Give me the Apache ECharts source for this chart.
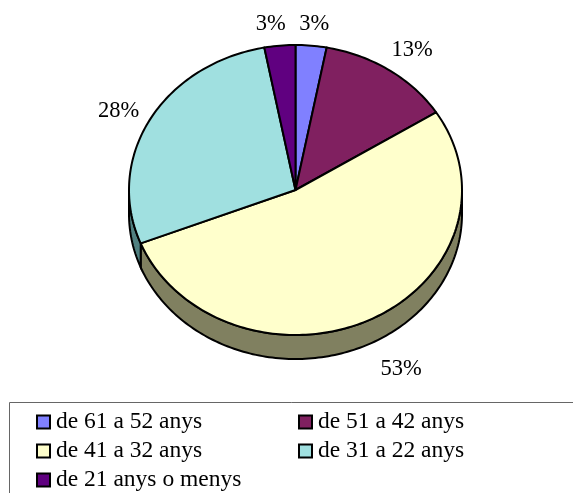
<!DOCTYPE html>
<html>
<head>
<meta charset="utf-8">
<style>
  html, body { margin: 0; padding: 0; background: #fff; }
  #chart { width: 573px; height: 493px; }
</style>
<script src="https://cdn.jsdelivr.net/npm/echarts@6/dist/echarts.min.js"></script>
</head>
<body>
<div id="chart"></div>
<script>
var categories = ['de 61 a 52 anys', 'de 51 a 42 anys', 'de 41 a 32 anys', 'de 31 a 22 anys', 'de 21 anys o menys'];
var values = [3, 13, 53, 28, 3];
var colors = ['#8080ff', '#802060', '#ffffcc', '#a0e0e0', '#600080'];
var sideColors = ['#404080', '#401030', '#808060', '#508080', '#300040'];
// label offset from the rim of the pie, at the middle of each slice
var labelOffsets = [[3, -22], [23, -20], [30, 50], [-31, -9], [-9, -22]];

var cx = 295.5, cy = 190, rx = 166.5, ry = 145, depth = 24;
var total = values.reduce(function (a, b) { return a + b; }, 0);

function rimPoint(t, dy) {
  return [cx + rx * Math.sin(t), cy - ry * Math.cos(t) + (dy || 0)];
}

function arcPoints(from, to, dy) {
  var pts = [];
  var n = Math.max(2, Math.ceil((to - from) / 0.02));
  for (var i = 0; i <= n; i++) {
    pts.push(rimPoint(from + (to - from) * i / n, dy));
  }
  return pts;
}

function makeSeries(index) {
  var before = values.slice(0, index).reduce(function (a, b) { return a + b; }, 0);
  return {
    type: 'custom',
    name: categories[index],
    coordinateSystem: 'none',
    silent: true,
    animation: false,
    itemStyle: { color: colors[index], borderColor: '#000', borderWidth: 2 },
    data: [[values[index]]],
    renderItem: function (params, api) {
      var start = before / total * Math.PI * 2;
      var end = start + api.value(0) / total * Math.PI * 2;
      var children = [];

      // side wall, only the part facing the viewer
      var sideFrom = Math.max(start, Math.PI / 2);
      var sideTo = Math.min(end, Math.PI * 1.5);
      if (sideTo > sideFrom) {
        children.push({
          type: 'polygon',
          shape: { points: arcPoints(sideFrom, sideTo, 0).concat(arcPoints(sideFrom, sideTo, depth).reverse()) },
          style: { fill: sideColors[index], stroke: '#000', lineWidth: 2 }
        });
      }

      children.push({
        type: 'polygon',
        shape: { points: [[cx, cy]].concat(arcPoints(start, end, 0)) },
        style: { fill: colors[index], stroke: '#000', lineWidth: 2, lineJoin: 'round' }
      });

      var mid = rimPoint((start + end) / 2, 0);
      children.push({
        type: 'text',
        style: {
          x: mid[0] + labelOffsets[index][0],
          y: mid[1] + labelOffsets[index][1],
          text: api.value(0) + '%',
          fill: '#000',
          font: '22.5px "Liberation Serif"',
          align: 'center',
          verticalAlign: 'middle'
        }
      });
      return { type: 'group', children: children };
    }
  };
}

var series = [];
for (var i = 0; i < categories.length; i++) {
  series.push(makeSeries(i));
}

function makeLegend(names, left) {
  return {
    data: names,
    left: left,
    top: 410,
    height: 120,
    padding: 0,
    orient: 'vertical',
    icon: 'rect',
    itemWidth: 13,
    itemHeight: 13,
    itemGap: 5,
    selectedMode: false,
    textStyle: { fontFamily: 'Liberation Serif', fontSize: 23.5, color: '#000', lineHeight: 20, padding: [0, 0, 0, 1] }
  };
}

var myChart = echarts.init(document.getElementById('chart'), null, { renderer: 'canvas' });
myChart.setOption({
  animation: false,
  backgroundColor: '#fff',
  graphic: [{
    type: 'rect',
    z: -1,
    shape: { x: 9.5, y: 402.5, width: 600, height: 120 },
    style: { fill: '#fff', stroke: '#666', lineWidth: 1 }
  }],
  legend: [
    makeLegend([categories[0], categories[2], categories[4]], 36),
    makeLegend([categories[1], categories[3]], 298)
  ],
  series: series
});
</script>
</body>
</html>
